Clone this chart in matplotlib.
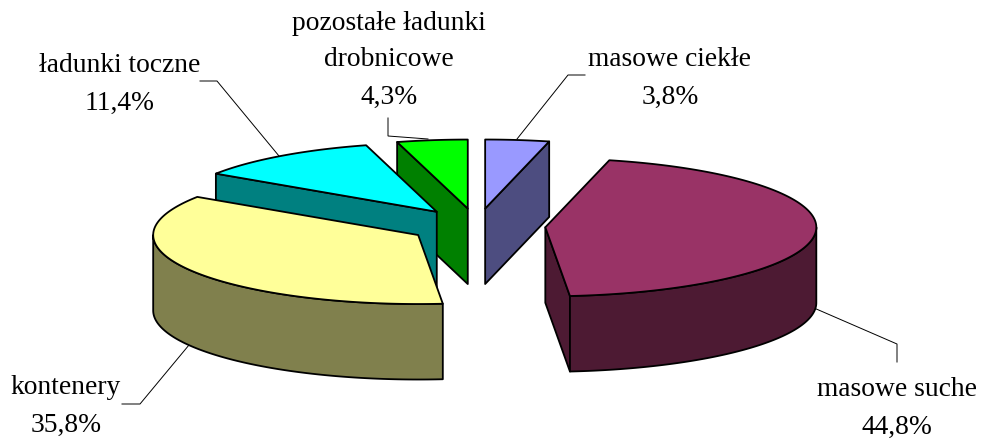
import numpy as np
import matplotlib
matplotlib.use("Agg")
import matplotlib.pyplot as plt
from matplotlib.patches import Polygon

# --- data (clockwise from 12 o'clock) ---
categories = ["masowe ciekłe", "masowe suche", "kontenery", "ładunki toczne",
              "pozostałe ładunki\ndrobnicowe"]
values = [3.8, 44.8, 35.8, 11.4, 4.3]
value_labels = ["3,8%", "44,8%", "35,8%", "11,4%", "4,3%"]
top_colors = ["#9999FF", "#993366", "#FFFF99", "#00FFFF", "#00FF00"]
side_colors = ["#4D4D80", "#4D1A33", "#80804D", "#008080", "#008000"]

# --- layout / style ---
CX, CY = 477, 226
RX_RIGHT, RX_LEFT, RY = 271, 265, 69
DEPTH = 75.5
EXPLODE_X, EXPLODE_Y = 68.5, 17.6
label_centers = [(670, 60), (897, 390), (66, 388), (120, 66), (389, 23)]
leaders = [
    [(585, 75), (568, 75), (517, 139)],
    [(897, 362), (897, 344), (814, 308)],
    [(122, 404), (140, 404), (189, 345)],
    [(200, 81), (217, 81), (279, 156)],
    [(388, 118), (388, 136), (428, 139)],
]
LINE_STEP = 37

plt.rcParams["font.family"] = ["Liberation Serif", "DejaVu Sans"]
fig = plt.figure(figsize=(9.81, 4.38), dpi=100)
ax = fig.add_axes([0, 0, 1, 1])
ax.set_xlim(0, 981)
ax.set_ylim(438, 0)
ax.axis("off")

fractions = np.array(values) / np.sum(values)
ends = np.cumsum(fractions) * 2 * np.pi
starts = ends - fractions * 2 * np.pi


def rim(ox, oy, angles, dz=0.0):
    s = np.sin(angles)
    return np.column_stack((ox + np.where(s < 0, RX_LEFT, RX_RIGHT) * s,
                            oy - RY * np.cos(angles) + dz))


def poly(points, color, z):
    ax.add_patch(Polygon(points, closed=True, facecolor=color, edgecolor="black",
                         linewidth=1.3, joinstyle="round", zorder=z))


mids = (starts + ends) / 2
order = np.argsort(-np.cos(mids))  # back slices first
for rank, i in enumerate(order):
    a0, a1, mid = starts[i], ends[i], mids[i]
    ox = CX + EXPLODE_X * np.sin(mid)
    oy = CY - EXPLODE_Y * np.cos(mid)
    apex = np.array([[ox, oy]])
    z = 2 + rank
    for ang, visible in ((a0, np.sin(a0) < -1e-6), (a1, np.sin(a1) > 1e-6)):
        if visible:
            p = rim(ox, oy, np.array([ang]))
            poly(np.vstack((apex, p, p + [0, DEPTH], apex + [0, DEPTH])),
                 side_colors[i], z)
    lo, hi = max(a0, np.pi / 2), min(a1, 3 * np.pi / 2)
    if hi > lo:
        arc = np.linspace(lo, hi, 120)
        poly(np.vstack((rim(ox, oy, arc), rim(ox, oy, arc[::-1], DEPTH))),
             side_colors[i], z)
    arc = np.linspace(a0, a1, 200)
    poly(np.vstack((apex, rim(ox, oy, arc))), top_colors[i], z)

for name, val, (x, y), lead in zip(categories, value_labels, label_centers, leaders):
    lines = name.split("\n") + [val]
    for k, line in enumerate(lines):
        ax.text(x, y + k * LINE_STEP, line, ha="center", va="center",
                fontsize=19.8, color="black", zorder=20)
    xs, ys = zip(*lead)
    ax.plot(xs, ys, color="black", lw=0.7, zorder=1, solid_joinstyle="miter")

fig.savefig("out.png", dpi=100)
